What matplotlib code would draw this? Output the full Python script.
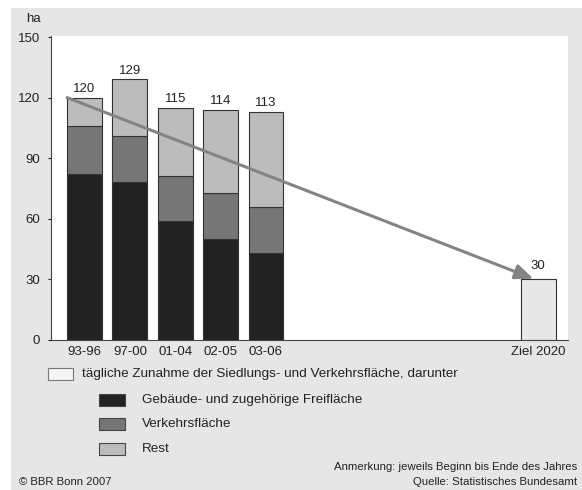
import matplotlib.pyplot as plt
from matplotlib.patches import Rectangle

# Flächenzunahme in ha pro Tag
periods = ["93-96", "97-00", "01-04", "02-05", "03-06"]
gebaeude = [82, 78, 59, 50, 43]
verkehr = [24, 23, 22, 23, 23]
rest = [14, 28, 34, 41, 47]
totals = [120, 129, 115, 114, 113]
target_label = "Ziel 2020"
target_value = 30

legend_labels = ["Gebäude- und zugehörige Freifläche", "Verkehrsfläche", "Rest"]
colors = ["#222222", "#767676", "#bcbcbc"]

W, H = 582, 490


def fx(px):
    return px / W


def fy(py):
    return (H - py) / H


def main():
    plt.rcParams['font.family'] = ['Liberation Sans', 'DejaVu Sans']
    fig = plt.figure(figsize=(5.82, 4.9), dpi=100, facecolor="white")

    # grey panel behind everything
    fig.patches.append(Rectangle((fx(11), 0), 1 - fx(11), fy(8), transform=fig.transFigure,
                                 facecolor="#e6e6e6", edgecolor="none", zorder=-5))

    ax = fig.add_axes([fx(51), fy(340), fx(568) - fx(51), fy(36) - fy(340)])
    ax.set_zorder(1)
    ax.set_facecolor("white")

    xs = list(range(len(periods)))
    target_x = 10
    width = 0.77

    bottom = [0] * len(periods)
    for vals, c in zip([gebaeude, verkehr, rest], colors):
        ax.bar(xs, vals, width, bottom=bottom, color=c, edgecolor="#333333", linewidth=0.8, zorder=2)
        bottom = [b + v for b, v in zip(bottom, vals)]

    ax.bar([target_x], [target_value], width, color="#e8e8e8", edgecolor="#333333", linewidth=0.8, zorder=2)

    for x, t in zip(xs, totals):
        ax.text(x, t + 1.2, str(t), ha="center", va="bottom", fontsize=9.5, color="#222222")
    ax.text(target_x, target_value + 3.5, str(target_value), ha="center", va="bottom", fontsize=9.5,
            color="#222222")

    # trend arrow from first bar to the target
    ax.annotate("", xy=(target_x - 0.1, target_value + 0.3), xytext=(-width / 2, totals[0]),
                arrowprops=dict(arrowstyle="-|>,head_length=1.1,head_width=0.45", color="#848484",
                                lw=2.2, shrinkA=0, shrinkB=0), zorder=3)

    ax.set_xlim(-0.74, 10.66)
    ax.set_ylim(0, 150.5)
    ax.set_yticks([0, 30, 60, 90, 120, 150])
    ax.set_xticks(xs + [target_x])
    ax.set_xticklabels(periods + [target_label])
    ax.tick_params(axis="x", length=0, pad=4, labelsize=9.5, colors="#222222")
    ax.tick_params(axis="y", length=2, pad=6, labelsize=9.5, colors="#222222")
    for s in ["top", "right"]:
        ax.spines[s].set_visible(False)
    for s in ["left", "bottom"]:
        ax.spines[s].set_color("#444444")
        ax.spines[s].set_linewidth(0.8)

    fig.text(fx(26), fy(19), "ha", fontsize=9.5, va="center", ha="left", color="#222222")

    # legend
    fig.patches.append(Rectangle((fx(48), fy(380)), fx(25), 12 / H, transform=fig.transFigure,
                                 facecolor="#f4f4f4", edgecolor="#777777", linewidth=0.8))
    fig.text(fx(82), fy(374), "tägliche Zunahme der Siedlungs- und Verkehrsfläche, darunter",
             fontsize=9.7, va="center", color="#222222")
    for yc, lab, c in zip([400, 424, 449], legend_labels, colors):
        fig.patches.append(Rectangle((fx(99), fy(yc + 6)), fx(26), 12 / H, transform=fig.transFigure,
                                     facecolor=c, edgecolor="#444444", linewidth=0.8))
        fig.text(fx(142), fy(yc), lab, fontsize=9.7, va="center", color="#222222")

    fig.text(fx(577), fy(467), "Anmerkung: jeweils Beginn bis Ende des Jahres", fontsize=8.2,
             ha="right", va="center", color="#222222")
    fig.text(fx(577), fy(482), "Quelle: Statistisches Bundesamt", fontsize=8.2,
             ha="right", va="center", color="#222222")
    fig.text(fx(19), fy(482), "© BBR Bonn 2007", fontsize=8.2, ha="left", va="center", color="#222222")

    fig.savefig("out.png", dpi=100, facecolor=fig.get_facecolor())


if __name__ == "__main__":
    main()
